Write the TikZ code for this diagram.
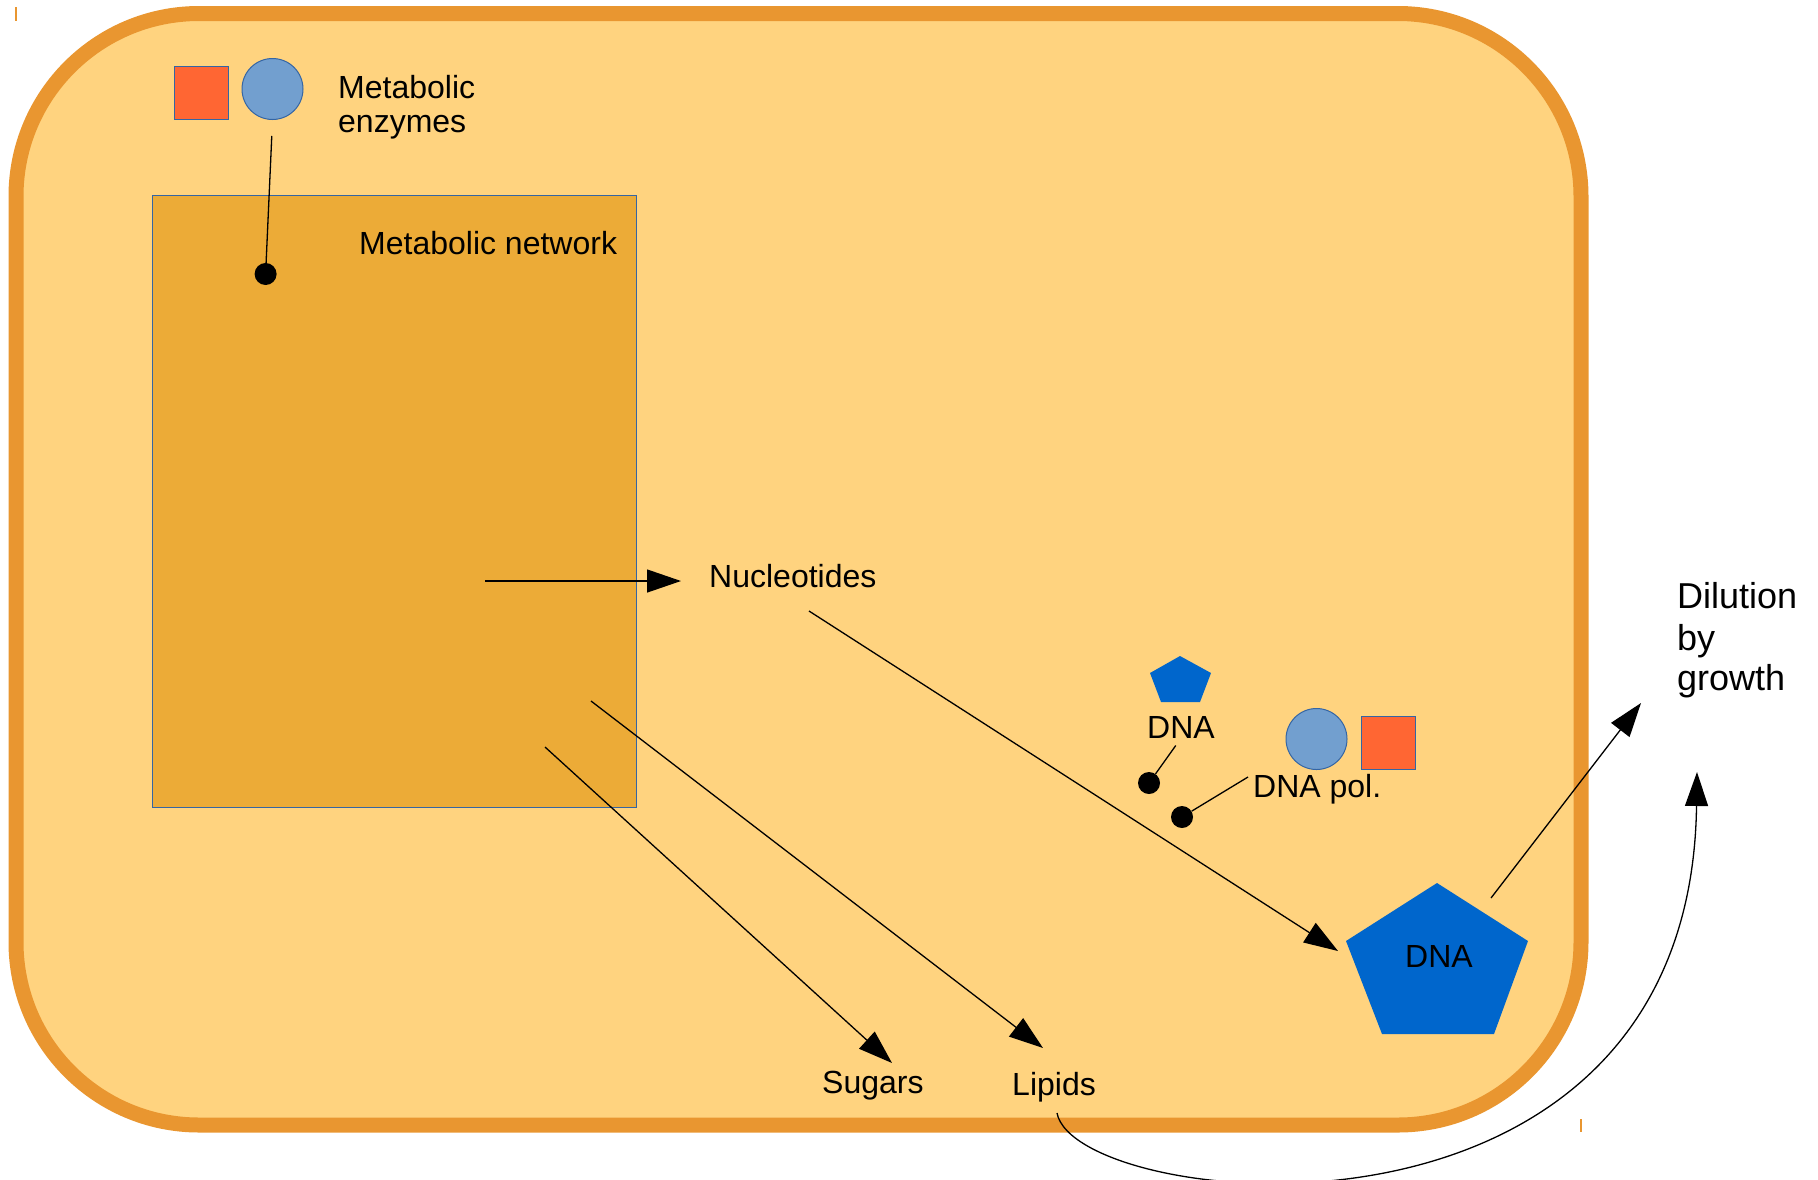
\documentclass[tikz,border=0pt]{standalone}
\usepackage{fontspec}
\setmainfont{Liberation Sans}
\usetikzlibrary{arrows.meta,calc}
\definecolor{cellfill}{RGB}{255,211,127}
\definecolor{cellline}{RGB}{233,150,48}
\definecolor{netfill}{RGB}{236,171,55}
\definecolor{edgeblue}{RGB}{52,101,164}
\definecolor{enzred}{RGB}{255,102,51}
\definecolor{enzblue}{RGB}{114,159,207}
\definecolor{dnablue}{RGB}{0,102,204}
\begin{document}
\begin{tikzpicture}[x=1pt,y=-1pt,
  lbl/.style={inner sep=0pt, anchor=base west, font=\fontsize{32}{37}\selectfont},
  biglbl/.style={inner sep=0pt, anchor=base west, font=\fontsize{36}{41}\selectfont},
  conn/.style={line width=1.3pt, draw=black},
  arr/.style={conn, -{Triangle[length=34pt,width=23pt]}},
  dotnode/.style={circle, fill=black, minimum size=22pt, inner sep=0pt},
  enzsq/.style={rectangle, fill=enzred, draw=edgeblue, line width=1pt, minimum width=54pt, minimum height=53pt, inner sep=0pt},
  enzci/.style={circle, fill=enzblue, draw=edgeblue, line width=1pt, minimum size=61pt, inner sep=0pt},
  dnashape/.style={fill=dnablue, draw=none},
  tick/.style={draw=cellline, line width=1.5pt}
]
\useasboundingbox (0,0) rectangle (1818,1179);

% cell
\draw[line width=15pt, draw=cellline, fill=cellfill, rounded corners=183pt] (16,13.5) rectangle (1581,1125);
\draw[tick] (16,7) -- (16,21);
\draw[tick] (1581,1119) -- (1581,1132);

% metabolic network
\node[rectangle, draw=edgeblue, fill=netfill, line width=1pt, minimum width=484pt, minimum height=612pt, anchor=north west, inner sep=0pt] (net) at (152,195) {};
\node[lbl] (netlbl) at (359,254) {Metabolic network};

% metabolic enzymes
\node[enzsq] (enzsq1) at (201,92.5) {};
\node[enzci] (enzci1) at (272.5,89) {};
\node[lbl] (enz1) at (338,98) {Metabolic};
\node[lbl] (enz2) at (338,132) {enzymes};
\node[dotnode] (dot1) at (265.6,274) {};
\draw[conn, shorten <=16pt] (enzci1.south) -- (dot1);

% labels
\node[lbl] (nuc) at (709,587) {Nucleotides};
\node[lbl] (sug) at (822,1093) {Sugars};
\node[lbl] (lip) at (1012,1095) {Lipids};

% small DNA and DNA polymerase
\fill[dnashape] (1180,656) -- (1211,673) -- (1200,702) -- (1161,702) -- (1150,673) -- cycle;
\node[lbl] (dnasmall) at (1147,738) {DNA};
\node[enzci] (enzci2) at (1316.5,739) {};
\node[enzsq] (enzsq2) at (1388,743) {};
\node[lbl] (dnapol) at (1253,797) {DNA pol.};
\node[dotnode] (dotA) at (1149,783) {};
\node[dotnode] (dotB) at (1182,817) {};
\draw[conn, shorten <=9pt] (dnasmall.south) -- (dotA);
\coordinate (polStart) at (1248,777);
\draw[conn] (polStart) -- (dotB);

% big DNA
\fill[dnashape] (1437,883) -- (1528,941) -- (1494,1034) -- (1382,1034) -- (1346,941) -- cycle;
\node[lbl] (dnabig) at (1405,967) {DNA};

% dilution
\node[biglbl] (dil1) at (1677,608) {Dilution};
\node[biglbl] (dil2) at (1677,650) {by};
\node[biglbl] (dil3) at (1677,690) {growth};

% connectors
\coordinate (nucSrc) at (485,581);
\draw[arr, shorten >=28pt] (nucSrc) -- (nucSrc -| nuc.west);

\coordinate (nucOut) at (809,611);
\coordinate (dnaIn) at (1338,951);
\draw[arr] (nucOut) -- (dnaIn);

\coordinate (sugSrc) at (545,747);
\coordinate (sugTip) at (892,1063);
\draw[arr] (sugSrc) -- (sugTip);

\coordinate (lipSrc) at (591,701);
\coordinate (lipTip) at (1043,1048);
\draw[arr] (lipSrc) -- (lipTip);

\coordinate (dnaOut) at (1491,898);
\coordinate (dilTip) at (1641,703);
\draw[arr] (dnaOut) -- (dilTip);

\coordinate (lipOut) at (1057,1113);
\coordinate (dilTip2) at (1697,772);
\draw[arr] (lipOut) .. controls (1075,1210) and (1690,1280) .. (dilTip2);
\end{tikzpicture}
\end{document}
